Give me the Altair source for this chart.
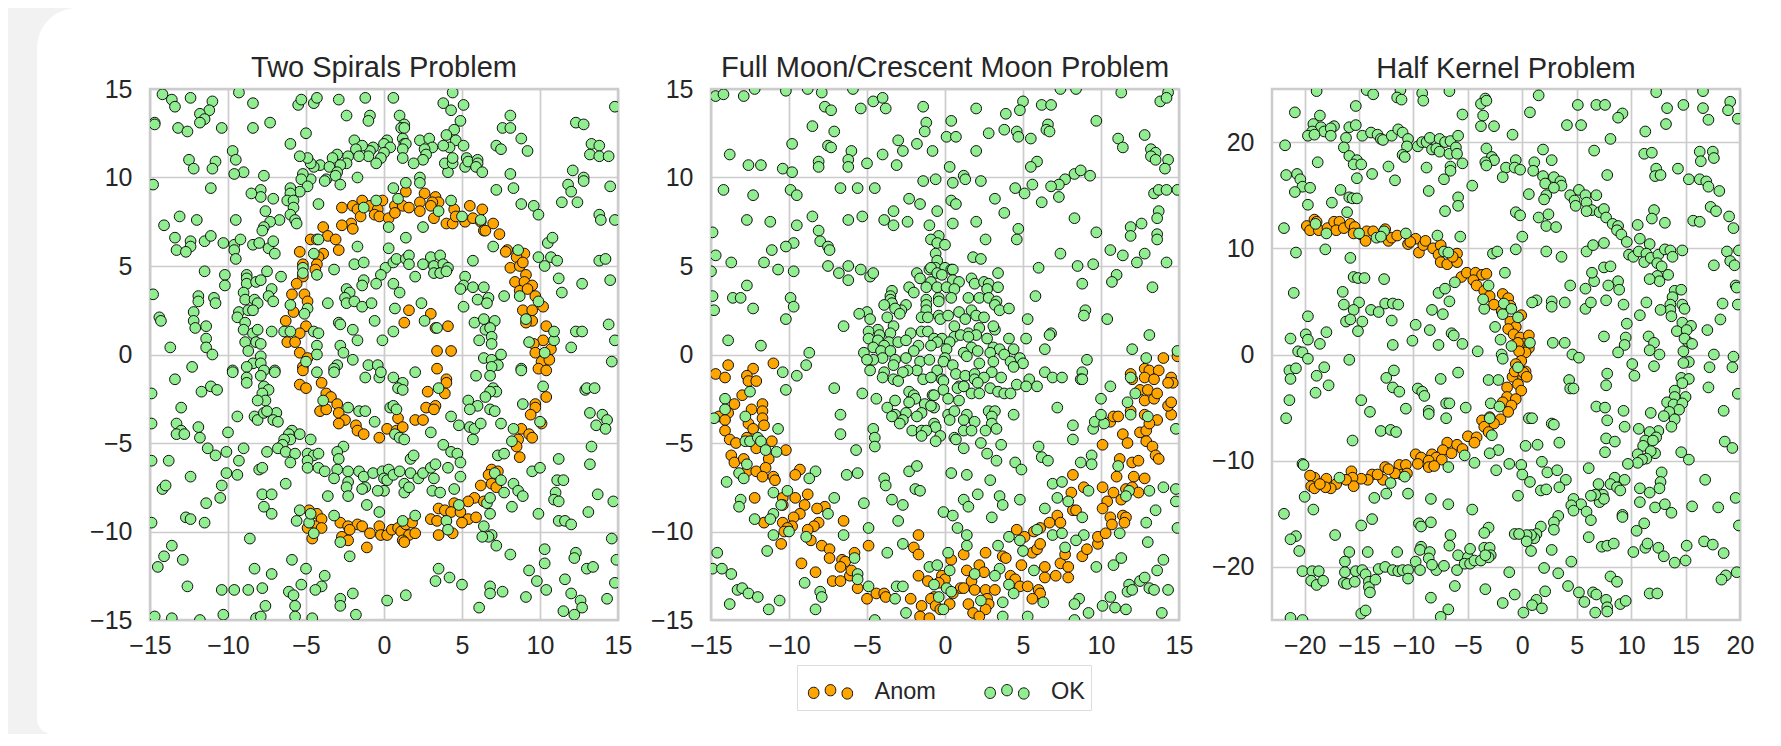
import altair as alt
import pandas as pd

p1_ok = [(-14.2,14.7),(-13.6,14.4),(-13.4,14.0),(-12.4,14.5),(-11.0,14.3),(-11.2,13.8),(-11.8,13.6),(-11.5,13.3),(-11.8,13.1),(-9.3,14.8),(-8.4,14.2),(-10.4,12.8),(-13.2,12.8),(-12.6,12.6),(-14.7,13.1),(-14.7,13.0),(-8.4,12.8),(-7.3,13.1),(-5.5,14.1),(-5.3,14.4),(-4.5,14.2),(-4.3,14.5),(-2.9,14.4),(-1.2,14.5),(0.6,14.5),(4.4,14.8),(3.8,14.2),(4.3,13.8),(5.1,14.1),(-2.4,13.5),(-0.9,13.5),(-1,13.2),(1,13.5),(-5,12.5),(1.3,13.0),(1.1,12.8),(1.3,12.8),(4.9,13.2),(4.5,12.7),(8.1,13.5),(7.6,12.8),(8.1,12.8),(8.8,12.2),(9.2,11.5),(12.3,13.1),(12.8,13),(14.8,14.0),(13.3,11.9),(13.8,11.8),(13.2,11.3),(13.8,11.2),(14.4,11.2),(7.2,11.8),(7.5,11.6),(4,12.4),(-6,11.9),
(-1.9,12.1),(0.2,12.1),(0,11.9),(1.2,12.2),(2.3,12.1),(2.9,12.2),(4.6,12.1),(5.1,11.8),(4.2,11.7),(3.8,11.8),(3.1,11.7),(2.6,11.6),(2.7,11.3),(2.5,11),(1.3,11.9),(1.4,11.9),(1.2,11.6),(1.2,11.1),(0.4,11.7),(0,11.4),(-0.2,11.1),(-0.7,11.7),(-0.9,11.5),(-1,11.2),(-0.5,10.8),(-1.4,11.8),(-1.8,11.6),(-1.6,11.2),(-2.3,11.2),(-3,11.3),(-3.3,11.1),(-2.4,10.8),(-2.8,10.7),(-4.1,10.7),(-4.5,10.6),(-4.7,10.8),(-4.9,11.1),(-5.4,11.2),(-3.5,10.6),(-3,10.3),(-3.7,9.9),(-3.8,9.8),(-3.1,10.1),(-2.8,9.6),(-1.7,10),(-4.7,9.9),(-5.2,10.2),(-5.3,9.9),(-4.9,9.5),(-5.4,9.2),(-6,9.4),(-6,9.1),(-6.2,8.7),(-5.8,8.7),(-5.8,8.3),(-6,7.9),(-5.7,7.6),(-5.6,7.4),(-6.7,7.6),(-7.3,7.5),(-7.7,7.2),(-7.8,7),(-7.6,8.1),(-7.1,8.8),(-7.9,9.3),(-7.9,8.9),(-8.5,9.1),(-7.7,10.1),(-9,10.3),(-9.6,10.2),(-9.7,11.5),(-9.5,11),(-12.5,11),(-12.2,10.5),(-10.8,10.9),(-11,10.5),(-11.1,9.4),(-14.8,9.6),(1.9,10.8),(4.1,10.3),(3.9,10.8),(4.4,10.8),(4.4,11.1),(5.2,10.6),(5.3,11.1),(5.4,10.9),(6,11),(6,10.8),(5.9,10.6),(6.3,10.3),(8.1,10.2),(2.3,10),(2.3,9.7),(1.4,9.7),(0.6,9.4),(7.2,9.3),(8.3,9.4),(8.8,8.5),(9.6,8.4),(9.9,7.9),(11.4,8.6),(11.8,9.6),(12,9.2),(12.4,8.6),(12.1,10.4),(12.8,10),(12.8,9.8),(14.5,9.5),(13.8,7.9),(13.9,7.6),(14.8,7.6),
(-4.2,8.5),(4.3,8.7),(-0.5,8.7),(0.9,8.8),(-1.3,8.3),(3.5,8.1),(5,7.8),(6.2,7.6),(0.3,7.2),(2.5,7.2),(1.4,6.6),(7,6.1),(8.6,5.9),(10.5,6.3),(10.8,6.6),
(-14.1,7.3),(-13.1,7.8),(-12,7.6),(-9.5,7.6),(-13.4,6.6),(-12.4,6.4),(-12.4,6.1),(-13.3,5.9),(-12.7,5.8),(-11.5,6.4),(-11.1,6.7),(-10.3,6.3),(-9.6,6.2),(-9.6,5.9),(-9.5,5.4),(-9.2,6.5),(-8.4,6.2),(-8,6.3),(-7.4,6),(-7.1,6.4),(-7,5.7),(-4.2,6.5),(-4.5,5.7),(-1.7,6.1),(0.3,6),
(-1.9,5.1),(-1.3,5.2),(0.1,4.9),(0.6,5.2),(0.8,5.4),(1.4,5.4),(1.6,5.6),(1.6,5.1),(2.5,5.1),(3,5.5),(3.2,5),(3.2,4.6),(3.6,5.6),(3.8,5.1),(4.1,4.9),(3.6,4.6),(4,4.7),(2,4.4),(-0.2,4.5),(5.7,5.3),(5.2,4.4),(5.1,3.9),(4.9,3.7),(5.7,3.8),(6.4,3.8),(6,3.1),(6.7,3.2),(6.6,2.9),(7.7,3.3),
(9.9,5.5),(10.3,5),(10.7,5.5),(11.1,5.3),(11.2,4.3),(11.4,3.5),(12.7,4),(13.8,5.3),(14.2,5.4),(14.5,4.2),(8.7,3.3),(9.9,3),
(-11.5,4.7),(-10.2,4.5),(-10.2,3.9),(-14.8,3.4),(-11.9,3.3),(-11.9,3),(-10.9,3.2),(-10.8,2.9),(-12.2,2.4),(-12.2,1.9),(-12.1,1.5),(-11.4,1.6),(-11.4,0.9),(-11.4,0.4),(-11,0),(-13.7,0.4),(-14.4,2.1),(-14.3,1.9),
(-8.8,4.5),(-8.8,4.3),(-8.8,4),(-8.2,4.1),(-7.9,4.2),(-7.5,4.7),(-6.6,4.4),(-7.2,3.7),(-9,3.5),(-8.9,3.1),(-8.3,3.1),(-8.1,2.9),(-7.4,3.3),(-7.1,3),(-9.3,2.4),(-9.4,2.1),(-8.7,2.5),(-8.4,2.5),(-8.9,1.8),(-9,1.4),(-8.4,1.2),(-8.1,1.4),(-8.9,0.7),(-8.2,0.7),(-7.9,0.6),(-8.7,0.2),(-7.2,1.3),(-6,2.8),(-6.4,1.3),(-6,1.3),(-7.9,-0.1),(-8.4,-0.5),(-7.9,-0.5),(-8.8,-0.7),(-12.3,-0.7),(-7,-0.9),(-9.7,-0.9),
(-5.2,4.9),(-5.2,4.6),(-4.3,4.5),(-3.2,4.8),(-4.9,2.6),(-5.1,2.3),(-4.5,1.3),(-4.2,1.2),(-4.3,0.5),(-4.3,0),(-5,-0.4),
(-1.3,4.2),(-1.4,3.9),(-0.5,4),(0.6,4),(1,3.5),(-2.4,3.7),(-2.2,3.5),(-2.5,3.2),(-2.4,2.9),(-1.9,3),(-1.4,2.7),(-0.8,2.9),(-3.6,2.9),(0.7,2.6),(2.4,2.9),(5.1,2.7),(-0.6,1.9),(-2.9,1.8),(-2.8,1.7),(-2,1.4),(-1.7,0.8),(0.6,1.3),(-0.1,0.8),(-2.8,0.5),(-2.6,0.1),(-2,-0.3),(-1,-0.6),(-0.4,-0.6),(-3,-0.6),(-3.2,-0.8),(2.6,1.9),(3.4,1.5),
(5.8,1.8),(6.4,2),(7.1,1.9),(6.5,1.4),(6.8,1.5),(6.9,1),(6.1,0.8),(6.9,0.6),(7.5,0),(6.4,-0.2),(6.9,-0.3),(7.3,-0.6),(6.9,-0.7),(8.8,-0.8),
(9.1,2),(9.3,0.7),(10.3,0.1),(10.9,0.8),(10.9,1.3),(12,0.4),(12.3,1.3),(12.7,1.3),(14.4,1.7),(14.8,0.8),(14.6,-0.4),
(-9.7,-1),(-8.8,-1.3),(-8.8,-1.6),(-7.7,-0.9),(-7,-1),(-7.9,-1.2),(-13.4,-1.4),(-11.7,-2.1),(-11.1,-1.8),(-10.7,-2),(-14.9,-2.2),(-7.7,-1.8),(-7.4,-2),(-7.8,-2.2),(-7.6,-2.6),(-8.1,-2.6),(-13,-3),(-9.4,-3.5),(-8.3,-3.5),(-8.1,-3.7),(-7.7,-3.3),(-6.9,-3.3),(-7.1,-3.7),(-6.8,-3.8),(-7.5,-3.2),
(-4.3,-1),(-3.2,-1),(-1.2,-1.3),(-0.3,-1.3),(-0.2,-1),(0.6,-1.3),(1.2,-1.6),(0.9,-1.9),(1.2,-2),(2,-1),(3.5,-1.9),(5.9,-1.2),(6.8,-1.2),(7,-1.9),(7.2,-2.1),(6.8,-2.1),(6.5,-2.4),(5.4,-2.6),(6,-2.9),(5.5,-3.1),(8.8,-0.9),(10.2,-1.8),(6.8,-3.1),(7.1,-3.2),(8.9,-2.8),
(12.9,-2),(13,-1.9),(13.5,-1.9),(13.2,-3.3),(14,-3.4),(14.3,-3.7),(13.6,-4),(14.2,-4.2),
(-3.9,-2.6),(-2.3,-3),(-1.6,-3.2),(-1.2,-3.2),(-0.6,-3.8),(0.4,-3),(0.6,-2.9),(0.8,-3.1),(4.3,-3.5),(4.8,-4),(5.5,-4.1),(5.8,-4.2),(6.2,-3.9),(5.7,-4.8),(7.5,-3.9),(10,-3.8),(8.3,-4.2),(8.2,-4.9),(3,-4.4),
(-14.9,-3.9),(-13.3,-3.9),(-13,-4.3),(-13.3,-4.5),(-12.8,-4.5),(-11.9,-4.1),(-11.8,-4.7),(-10,-4.4),(0.7,-4.5),(1,-4.7),(1.3,-4.8),
(-5.9,-4.3),(-6.1,-4.5),(-6,-4.8),(-6.4,-4.8),(-5.4,-4.5),(-4.7,-4.8),(-6.5,-5.1),(-6.8,-5.3),(-6.3,-5.5),(-5.7,-5.6),(-6,-6.1),(-7.5,-5.5),(-4.9,-5.6),(-4.5,-5.7),(-4.2,-5.6),(-4.9,-6),(-4.9,-6.4),(-4.2,-6.4),(-3.8,-6.6),(-2.6,-5.2),(-3,-5.5),(-2.9,-5.9),(-3,-6.5),(-3.2,-7),(-2.3,-6.6),(-1.6,-6.6),(-2.3,-7.2),(-2.4,-7.5),(-1.3,-6.9),(-1.2,-7.5),(-1.4,-7.6),(-2.3,-8),(-3.6,-8),(-0.7,-6.7),(-0.1,-6.6),(0.3,-6.5),(0,-7),(0.2,-7.1),(0.6,-6.8),(1,-6.6),(1.7,-6.7),(1.3,-7.3),(1.3,-7.8),(1.6,-7.5),(2.2,-7),(2.5,-6.7),(3,-6.4),(3.3,-6.2),(3.2,-7),(4.1,-6.4),(4.9,-6.9),(3.1,-7.7),(3.6,-7.8),(4.5,-7.6),(0,-7.7),(-0.4,-7.7),(1.7,-5.9),(1.9,-5.7),(3.8,-5.1),(4.3,-5.5),(4.7,-5.6),(4.9,-6.1),
(-11.3,-5.3),(-10.8,-5.7),(-10.1,-5.5),(-9,-5.3),(-9.3,-6),(-14.9,-6),(-13.8,-6),(-10.1,-6.7),(-9.4,-6.8),(-12.4,-6.9),(-8,-6.5),(-7.8,-6.4),(-6.3,-7.3),(-10.4,-7.4),(-10.5,-8.1),(-14.2,-7.6),(-14,-7.4),(-11.4,-8.4),(-7.8,-7.9),(-7.2,-7.9),(-7.7,-8.6),(-7.2,-9),(-14.9,-9.5),(-12.7,-9.2),(-12.4,-9.3),(-11.5,-9.5),(-8.6,-10.4),(-13.6,-10.8),(-14.1,-11.4),(-14.5,-12),(-12.9,-11.6),(-12.6,-13.1),(-10.4,-13.3),(-9.6,-13.3),(-8.7,-13.3),(-7.8,-13.2),(-8.3,-12.1),(-7.2,-12.4),(-5.9,-11.6),(-5,-12.1),(-3.8,-12.5),(-5.3,-13),(-4,-13.1),(-4.4,-13.3),(-6.1,-13.4),(-5.8,-13.6),(-5.7,-14.2),(-7.6,-14.2),(-10.3,-14.7),(-14.7,-14.8),(-13.6,-14.9),(-11.8,-15),(-8.2,-14.9),(-7.9,-14.8),(-5.7,-14.8),(-4.6,-14.9),(-2,-13.5),(-2.8,-13.8),(-2.8,-14.2),(-1.8,-14.7),(-2.2,-11.4),(0.2,-13.9),(1.4,-13.6),(3.5,-12.1),(4.2,-12.6),(3.3,-12.8),(5,-13),
(-5.4,-8.8),(-5.6,-9.4),(-4.8,-9.5),(-4.7,-9),(-4.5,-10.1),(-3.2,-9.1),(-2.8,-10.6),(-1.1,-8.5),(-0.3,-8.9),(1.2,-9.4),(2,-9.1),(4,-9.4),(4.1,-9.9),(4.8,-8.5),(6.4,-9.7),(6.6,-8.4),(6.8,-8.1),(6.8,-9),(6.9,-10.2),(6.7,-10.3),(6.3,-10.3),(7.2,-10.8),(8.1,-11.3),(7.1,-6.7),(7.5,-7.1),(7.3,-5.7),(7.7,-5.6),(8.3,-7.3),(8.6,-7.7),(8.9,-8),(7.7,-7.8),(8.2,-8.6),(9.5,-6.6),(10,-6.4),(11.2,-5.9),(11.1,-7.1),(11.5,-7.1),(11,-7.8),(10.9,-8.2),(11.2,-8.3),(9.9,-9),(13.1,-8.9),(13.7,-7.9),(14.7,-8.3),(11.2,-9.4),(11.6,-9.4),(12,-9.6),(13.3,-5.2),(13.2,-6.2),(14.6,-10.4),(14.9,-11.6),(10.3,-11),(10.3,-11.8),(9.3,-12.2),(9.8,-12.8),(10.4,-13.3),(7.6,-13.4),(6.8,-13.1),(6.8,-13.5),(9.1,-13.7),(6.1,-14.3),(12.3,-11.2),(12.2,-11.5),(13,-12.1),(13.4,-12),(11.6,-12.7),(12,-13.5),(12.6,-13.9),(12.7,-14.3),(14.3,-13.8),(14.8,-12.9),(11.5,-14.5),(12.2,-14.7)]

p1_an = [(1.4,9.2),(2.6,9.1),(3.3,8.9),(3.5,8.6),(3.1,8.6),(2.3,8.6),(3,8.4),(2.3,8.1),(3.2,7.7),(-0.1,8.7),(0.7,8.4),(1.2,8.4),(1.6,8.3),(-1.4,8.7),(-2,8.4),(-1.7,8.2),(-2.7,8.3),(-0.9,8.4),(-0.4,8.2),(-0.6,7.9),(-0.3,7.8),(0.3,7.7),(0.7,8),(-1.5,7.8),(-2.1,7.4),(-2.7,7.3),(-2,7.1),(4.5,8.2),(5.5,8.4),(6.3,8.2),(4,7.4),(4.4,7.4),(4.6,7.8),(5.2,7.5),(5.7,7.7),(6.2,7.5),(7,7.4),(6.4,7),(6.5,7),(7.4,6.8),(-3.9,7.2),(-4.7,6.5),(-4.3,6.5),(-3.6,6.7),(-3.1,6.5),(-2.9,5.9),(-3.9,5.7),(-4.2,5.5),(-4.3,5.1),(-4.4,4.8),(-5.4,5.8),(-5.2,5.1),(-5.2,4.4),(-5.6,4),(-5.9,3.4),(-5.1,3.4),(-4.9,3),(-5.8,2.4),(-6.3,1.9),(-5,1.6),(-5.4,1.2),(-6.2,0.7),(-5.7,0.7),(-5.4,0.1),(-4.9,-0.2),(-5.2,-0.7),(7.9,5.9),(7.8,5.8),(9,5.7),(8.5,5.5),(8.1,4.9),(8.7,5),(8.9,5.2),(9.1,4.5),(8.4,4.1),(9,4.1),(9.5,3.9),(8.7,3.6),(9.2,3.7),(9.7,3.3),(10.2,2.7),(8.9,2.5),(9.5,2.5),(9.5,1.9),(9.1,1.8),(10.4,1.6),(10.2,0.8),(9.6,0.6),(10.7,0.3),(9.7,0.1),(10.1,-0.4),(10.6,-0.3),(9.9,-0.8),(10.4,-0.9),
(1.6,2.5),(3,2.3),(1.3,1.8),(3.3,1.5),(4.1,1.6),(3.4,0.2),(4.3,0.2),(3.4,-0.8),
(-5.2,-0.9),(4,-1.4),(4,-1.6),(3.9,-2.2),(-4,-1.6),(-5.4,-1.7),(-5,-1.9),(-3.7,-2.2),(-3.4,-2.4),(-3,-2.8),(-4.1,-3.2),(-3.7,-3.1),(-2.9,-3.3),(-2.5,-3.7),(-2.9,-3.9),(-1.8,-4),(-1.7,-4.3),(-1.3,-4.5),(-0.3,-4.7),(0.2,-4.2),(0.8,-4.3),(0.9,-3.6),(1.2,-4.1),(2,-3.7),(2.5,-3.7),(2.7,-3),(3.3,-2.9),(3.2,-3.1),(2.8,-2.1),(10.4,-2.4),(9.7,-2.8),(9.7,-3),(9.4,-3.4),(10.1,-3.9),(8.8,-4.2),(9.3,-4.5),(9.5,-4.7),(8.6,-4.8),(8.5,-5.2),(8.7,-5.8),(6.9,-6.5),(7.3,-6.6),(6.7,-6.8),(6.9,-7.3),(7.2,-7.5),(6.2,-7.4),(5.8,-8.1),(5.4,-8.3),(6.4,-8.3),(4.5,-8.4),(3.5,-8.7),(3.9,-8.8),(4.3,-8.9),(4.9,-8.9),(5.4,-9.3),(5.9,-9.2),(5,-9.5),(3,-9.3),(3.4,-9.4),(4.4,-10.1),(3.5,-10.2),
(-4.8,-8.8),(-4.3,-9),(-4,-9.3),(-4.4,-9.7),(-4,-9.8),(-4.9,-9.8),(-4.6,-10.4),(-2.8,-9.5),(-2.3,-9.7),(-1.7,-9.6),(-1.4,-9.7),(-2.2,-9.9),(-2.7,-10.3),(-2.3,-10.5),(-1.1,-10.9),(-0.9,-10.1),(-0.3,-9.7),(-0.2,-10.2),(0.2,-10.2),(0.5,-9.9),(0.9,-9.8),(1.1,-10),(1.4,-9.6),(1.8,-9.5),(1.6,-10.2),(1.2,-10.5),(1.3,-10.6),(2,-10.1)]

p2_ok = [(-14.7,14.6),(-14.2,14.7),(-12.9,14.6),(-12.2,15),(-10.2,14.9),(-8.8,15),(-7.9,14.8),(-5.9,15),(-7.7,14),(-7.3,13.8),(-5.4,13.9),(-4.6,14.3),(-4,14.5),(-3.8,13.9),(-1.4,14),(2,13.9),(3.9,13.6),(5,14.3),(4.8,13.8),(6.2,14.1),(6.8,14.1),(7.4,15),(8.4,15),(9.7,13.2),(11.3,14.8),(13.8,14.3),(14.3,14.8),(14.2,14.5),
(-8.5,12.9),(-7.1,12.6),(-1.2,13.1),(-1.3,12.6),(0.4,13.2),(0.1,12.3),(0.7,12.3),(2.8,12.5),(3.8,12.7),(4.6,12.6),(4.7,12.3),(5.5,12.2),(6.6,13),(6.5,12.7),(6.7,12.6),(11.1,12.2),(11.4,11.7),(12.8,12.4),
(-3,12.1),(-9.8,11.9),(-7.5,11.8),(-7.3,11.7),(-6,11.5),(-2.7,11.5),(-1.8,11.9),(-0.8,11.5),(2,11.5),(13.2,11.6),(13.5,11.4),(13.2,11.2),(13.5,11),(14.3,11),(-13.8,11.3),(-4,11.3),
(-12.6,10.7),(-11.8,10.7),(-8.1,10.9),(-8.1,10.6),(-6.2,11),(-6.2,10.6),(-5,10.8),(-3.1,10.7),(0.3,10.6),(5.9,10.9),(5.5,10.6),(14.1,10.5),(-10.4,10.5),(-9.8,10.3),
(1.2,10.1),(1.3,9.9),(-0.6,9.9),(-1.4,9.8),(0.5,9.7),(2.3,9.8),(8.3,10.2),(8.7,10.4),(9.3,10.1),(7.7,9.9),(7.3,9.6),(6.8,9.5),(5.6,9.6),(4.5,9.4),(5.1,9.1),(6.2,8.6),(7.3,8.9),(3.2,8.8),
(-14.2,9.3),(-12.3,9),(-9.9,9.3),(-9.5,9),(-6.7,9.4),(-5.6,9.4),(-4.5,9.4),(-2.3,8.8),(-1.6,8.5),(0.4,8.7),(0.7,8.5),(13.4,9.1),(13.7,9.3),(14.2,9.3),(14.9,9.3),
(-3.3,8.1),(-0.5,8.1),(3.8,8),(13.7,8.1),(13.6,7.7),(8.3,7.7),
(-12.7,7.6),(-11.2,7.5),(-8.5,7.8),(-6.2,7.6),(-5.3,7.8),(-3.9,7.6),(-3.3,7.3),(-2.4,7.5),(-1,7.3),(0.5,7.4),(2,7.5),(12.6,7.4),(11.9,7.2),(11.9,6.7),(4.7,7.1),(9.7,6.9),(-9.5,7.3),(-14.9,6.9),(-8.1,7),
(13.6,6.8),(13.6,6.5),(4.6,6.5),(2.6,6.5),(-0.4,6.7),(-0.9,6.5),(-0.5,6.3),(0,6.2),(-8,6.4),(-7.5,6.1),(-7.4,5.9),(-9.7,6.3),(-10.2,6.1),(-11.1,5.9),(10.6,5.9),(11.4,5.6),(12.8,5.7),(7.4,5.7),(12.3,5.2),(14.2,5.2),
(-14.7,5.6),(-13.7,5.2),(-11.6,5.2),(-7.5,5),(-6.2,5),(-0.6,5.7),(-0.5,5.3),(1.8,5.5),(2.3,5.4),(6,4.9),(8.5,5),(9.5,5.1),
(-10.7,4.8),(-9.7,4.7),(-6.8,4.6),(-6.2,4.2),(-5.4,4.8),(-4.8,4.4),(-4.6,4.6),(-15,4.7),(-12.7,3.9),
(11,4.5),(10.7,4.1),(8.8,4),(13.3,3.8),(5.8,3.3),
(-13.6,3.2),(-13.1,3.2),(-9.9,3.2),(-9.7,2.7),(-12.3,2.6),(-14.8,2.5),(-14.9,3.3),(-10.2,2),(9,2.5),(8.9,2.2),(10.4,2),(5.3,2),
(-6.5,1.6),(-13.9,0.8),(-11.8,0.5),(-8.7,0.1),(-8.9,-0.6),(-10.4,-1),(-9.5,-1.2),(6.8,1.2),(6.7,1.1),(5.2,0.9),(4.1,0.9),(6.4,0.3),(13.1,1.1),(12,0.3),(9.1,-0.3),(12.9,-0.2),(14.9,0.2),(6.4,-1),(6.9,-1.3),(7.5,-1.3),(8.8,-1),(8.7,-1.4),(8.8,-1.4),(11.9,-1.3),
(-0.6,4.9),(-1,4.8),(-0.9,4.9),(0,4.9),(0.4,4.8),(0.5,4.8),(-0.5,4.6),(-0.2,4.5),(-1.8,4.6),(-1.6,4.3),(-0.9,4.1),(0.5,4.2),(0.9,4.1),(1.7,4.3),(1.9,4),(2.5,4.1),(2.8,4),(3.4,4.6),(3.4,3.8),(2.7,3.7),(-1.2,3.8),(-0.5,3.8),(0.1,3.8),(0.6,3.7),(-2.3,3.8),(-2,3.5),(-3.4,3.6),(-3.5,3.3),(-3.5,3.1),(-3.4,2.9),(-3.9,2.8),(-2.5,2.8),(-2.8,2.5),(-3.2,2.6),(-1.2,3.1),(-1.2,2.8),(-0.4,3.2),(-0.4,3),(0.4,3.2),(1.5,3.2),(2.2,3.2),(2.8,3.2),(3.3,3),(3.2,2.8),(3.5,2.5),(4.1,2.6),(0.9,2.4),(1.7,2.5),(2,2.2),(2.5,2.1),(-1.2,2.5),(-1.5,2.1),(-1.1,2.1),(-0.4,2.2),(-0.3,2),(0.2,2.2),(-3.7,2.1),(-2.9,2.3),(-5,2.4),(-5.5,2.3),(-4.8,2),(1.3,2),(0.6,1.6),(1.5,1.2),(2.2,1.5),(3.2,1.4),(3.1,1.6),(-4.3,1.4),(-3.3,1.6),(-3.5,1.2),(-4.9,1.3),(-1.5,1.3),(-1.1,1.3),(-2.2,1.2),(-4.2,1.1),(-4.9,0.9),(-4.3,0.8),(-3.6,0.7),(-3,0.7),(-2.5,0.8),(-0.7,0.9),(-0.2,0.9),(0.6,1),(1,1.1),(2,1.1),(2.7,0.9),(1.5,1),(-0.5,0.7),(0.3,0.7),(-4.6,0.4),(-3.9,0.5),(-1.7,0.5),(-0.9,0.5),(1.7,0.4),(3.1,0.4),(3.5,0.3),(4.4,0.3),(-5.2,0.1),(-4.1,0.2),(-3.5,0.2),(-2,0.2),(0.1,0.3),(1.2,0.1),(2.1,0.2),(2.9,0.1),(3.8,0),(-2.5,-0.2),(-4,-0.2),(0,-0.2),(1.4,-0.1),(4.8,-0.2),(-3.2,-0.3),(-4.6,-0.3),(-5,-0.3),(-1.6,-0.4),(-1,-0.3),(-0.1,-0.4),(3.1,-0.4),(4.2,-0.4),(2.2,-0.5),(5,-0.5),(0.5,-0.6),(-3.3,-0.6),(-4.8,-0.9),(-3.9,-1),(-1.8,-0.9),(-2.4,-0.9),(-0.5,-0.9),(-2.7,-1),(3,-1),(4.4,-0.7),(0.7,-1.1),(1.3,-1.2),(1.9,-1.1),(-4,-1.3),(-3.3,-1.4),(-3,-1.5),(-1.4,-1.4),(-0.9,-1.3),(-0.2,-1.4),(1.9,-1.4),(2.5,-1.3),(3.6,-1.3),(4.6,-1.7),(5.4,-1.4),(1.2,-1.8),(2.1,-1.6),
(-0.1,-1.5),(-0.1,-2),(0.9,-1.8),(0.8,-1.9),(1.2,-1.8),(-2.3,-2.1),(-2,-2.3),(-1.9,-2.5),(-2.3,-2.7),(-3.2,-2.6),(-0.8,-2.3),(-0.7,-2.3),(0.2,-2.5),(0.9,-2.6),(1.7,-2.2),(2.2,-2.2),(2.9,-1.9),(3.4,-2.1),(3.8,-2.2),(4.2,-2.2),(5.2,-1.8),(5.9,-1.8),(-4.4,-2.5),(-5.3,-2.2),(-7.1,-1.9),(-10.2,-2),(-14.1,-2.5),(-12.5,-2.1),(7.2,-3),(11.7,-2.7),(12.2,-2.2),(11.9,-3.4),(13,-3.5),(10,-2.5),(10.6,-1.8),
(-1.3,-2.8),(-0.7,-3),(-0.9,-2.9),(-3.7,-3),(-3.2,-3.4),(-2.5,-3.3),(-1.5,-3.3),(-1.8,-3.5),(-3.4,-3.5),(-2.7,-3.7),(-2.9,-3.9),(-0.7,-3.9),(-0.6,-4.1),(0.2,-3.4),(0.6,-3.2),(0.3,-3.7),(1.4,-3.4),(1.2,-3.7),(1.9,-3.8),(2.8,-3.2),(3.2,-3.2),(3,-3.5),(3,-3.9),(4.4,-3.4),(1.2,-4.3),(1.7,-4.3),(2.6,-4.3),(3.3,-4.2),(-2.1,-4.3),(-1.5,-4.3),(-1.2,-4.3),(-1.5,-4.6),(-0.3,-4.6),(-0.6,-4.9),(0.6,-4.7),(0.7,-4.8),(1.2,-5.3),(2.3,-5),(3.6,-5.1),(2.7,-5.6),(3.3,-6),(4.5,-6.1),(4.9,-6.5),(6,-5.2),(6.2,-5.8),(6.6,-6),(-6.7,-3.4),(-6.7,-4.5),(-4.6,-4.2),(-4.5,-4.7),(-4.5,-5.2),(-5.7,-5.4),(-6.3,-6.8),(-5.6,-6.7),(-2.3,-6.6),(-1.8,-6.3),(-3.9,-7),(-3.8,-7.4),(-1.9,-7.6),(-1.6,-7.7),(0.4,-6.7),(1.4,-6.8),(2.9,-7.1),(2.1,-7.9),(1.2,-8.2),(1.5,-8.6),(3.5,-8),(3.7,-8.5),(4.8,-8.2),(-3.4,-8.2),(-2.7,-8.5),(-0.1,-8.9),(0.5,-9.1),(3,-9.2),(-3,-9.4),(-5.2,-8.4),(-7.1,-8.1),(-8.3,-6.6),(-8.7,-7),(-14,-7.2),(-13.2,-6.7),(-12.9,-7),(-12.7,-6.2),(-12.8,-4.9),(-12.5,-4.9),(-12,-4.7),(-11.8,-4.9),(-11.5,-5.4),(-10.8,-5.5),(-10.7,-4.2),(-12.8,-3.5),(-14.1,-3.1),(-14.8,-3.6),
(-13.1,-8.2),(-13.2,-8.6),(-11,-7.8),(-10.1,-7.7),(-10.5,-8.5),(-11,-9),(-11.2,-9.3),(-12.2,-9.3),(-10,-10),(-11,-10.2),(-11.4,-11.1),(-7.5,-9),(-8.9,-10.3),(-6.5,-10.2),(-4.9,-9.8),(-3.7,-11.2),(-2.7,-10.7),(-14.6,-11.2),(-14.9,-12.1),(-14.3,-12.1),(-13.7,-12.4),(-13.3,-13.3),(-13,-13.2),(-12.6,-13.5),(-12,-13.7),(-13.8,-14.1),(-10.6,-13.9),(-11.3,-14.4),(-9,-12.9),(-8,-13.4),(-7.9,-13.7),(-8.3,-14.4),(-5.8,-11.5),(-5.6,-12.4),(-5.6,-12.7),(-4.9,-13.1),(-3.1,-13.1),(-2.7,-13.1),(-3.2,-13.8),(-4.5,-15),(-2.5,-14.6),(-1,-12),(-0.5,-11.9),(0.2,-11.2),(0.3,-12.2),(1.4,-10.8),(1.4,-10.2),(0.8,-9.8),(-0.7,-13),(0.1,-13.2),(0.4,-13.4),(-0.4,-13.7),(-0.1,-14.4),(1.9,-12.4),(2.3,-13.9),(3.4,-10.8),(4.1,-10.3),(4.8,-10.5),(5,-11.1),(5.7,-12.2),(3.5,-12.1),(3.2,-12.5),(4.1,-13),(4.4,-13.5),(3.7,-14),(3.7,-14.8),(5.3,-14.8),(6.3,-14),(5.9,-9.9),(6.9,-10.2),(7.5,-10.1),(6.4,-8.7),(7.2,-8.1),(7.9,-8.3),(6.9,-7.3),(7.5,-7.2),(8.2,-4),(8.2,-4.8),(9.5,-4.2),(9.6,-3.8),(10.2,-3.9),(10,-3.4),(9.4,-5.7),(9.4,-6.2),(8.7,-6.1),(9.2,-7.7),(8.8,-9.2),(8.9,-10.2),(8.4,-10.5),(7.7,-10.9),(11.2,-10.1),(13,-10.6),(12.9,-9.5),(13.5,-8.8),(11.8,-7.7),(11.6,-8),(11.1,-6.3),(13.1,-7.7),(14,-7.5),(14.8,-7.6),(14.8,-8.3),(14.9,-9.8),(14.8,-4.2),(11.3,-11.5),(14,-11.6),(13.6,-12.2),(10.8,-11.9),(9.7,-12),(12.5,-12.8),(12.8,-12.6),(11.8,-13),(11.7,-13.4),(12,-13.3),(13.1,-13.2),(13.4,-13.3),(14.3,-13.3),(10.6,-13.7),(8.6,-13.8),(8.3,-14.1),(10.1,-14.2),(10.9,-14.3),(11.6,-14.4),(9.2,-14.6),(13.9,-14.6),(8.3,-15)]

p2_an = [(-13.9,-0.6),(-14.7,-1.1),(-14.1,-1.3),(-12.3,-0.8),(-12.7,-1.2),(-12.6,-1.5),(-12.1,-1.5),(-11,-0.5),(14,-0.2),(14.9,-0.1),(12.8,-0.8),(13.1,-0.9),(13.7,-0.9),(11.9,-1.1),(12,-1.4),(12.8,-1.3),(13.4,-1.4),(14.5,-1.3),(14.6,-1.6),(14.3,-1.6),
(-13,-2.3),(-13.5,-2.8),(-11.7,-2.8),(-12.4,-3.1),(-11.7,-3.2),(-14.5,-3.5),(-13.9,-3.3),(-14.1,-3.7),(-11.7,-3.6),(-12.6,-3.9),(-11.6,-4),(-12.3,-4.2),(-14.1,-4.3),(-13.8,-4.8),(-13.4,-5),(-12.7,-4.7),(-11.1,-4.9),(-12.1,-5.3),(-10.2,-5.4),(-13.7,-5.7),(-13.5,-6.1),(-12.9,-5.9),(-11.3,-5.9),(-12.7,-6.6),(-12.1,-6.6),(-11.5,-6.4),(-11.7,-6.9),(-11,-6.9),(-10.9,-7.1),(-9.3,-6.5),(-9.6,-6.8),(-12.2,-8.1),(-10.4,-8.1),(-9.6,-8.1),(-8.8,-7.9),(-10.4,-8.5),(-9,-8.5),(-7.7,-8.6),(-8.2,-8.7),(-9.3,-9),(-9.7,-9.2),(-11.6,-9.5),(-10.4,-9.5),(-9.8,-9.7),(-10.1,-9.8),(-10.3,-10),(-8.1,-9.5),(-8.4,-9.7),(-8.8,-9.9),(-6.5,-9.4),(-10.5,-10.7),(-8.6,-10.5),(-7.9,-10.8),(-7.4,-11),(-7.4,-11.5),(-9.2,-11.8),(-6.6,-11.6),(-6.4,-11.7),(-5.8,-11.2),(-6.7,-12),(-8.3,-12.3),(-6.1,-12.5),(-6,-12.2),(-7.2,-12.8),(-6.7,-12.8),(-5.6,-13.2),(-5,-13.8),(-4.4,-13.5),(-3.9,-13.5),(-3.8,-13.7),(-4.9,-10.8),(-2,-10.9),(-1.7,-11.3),(-1.7,-10.2),(-1.7,-12.5),(-1.1,-12.8),(-0.2,-12.5),(0,-12.7),(-0.4,-12.9),(0.4,-11.6),(1.2,-11.3),(1.4,-12.2),(2.2,-11.9),(2.5,-12.3),(2.6,-11.2),(1.7,-12.8),(1,-13.2),(1.2,-13.2),(1.9,-13.3),(2.6,-13.3),(3.2,-13.3),(2.7,-13.8),(2.8,-14.1),(2.6,-14.4),(1.5,-14.1),(1.8,-14.6),(2.2,-14.8),(-0.7,-13.7),(-0.9,-13.8),(0.5,-13.5),(0.3,-14.1),(-0.6,-14.2),(-0.3,-14.4),(-1.5,-14.2),(-1.6,-14.8),(-1,-14.9),(-2.2,-13.8),(3.7,-11.4),(3.9,-11.5),(4.2,-12.5),(4.5,-12.7),(4.8,-13.1),(5.3,-13.1),(4.9,-11.9),(5.6,-11.2),(5.9,-11),(6.1,-10.7),(4.6,-9.9),(5.1,-10.3),(5.7,-10),(6.1,-9.8),(6.7,-9.5),(7.2,-9.1),(7.4,-9.5),(6.4,-12),(6.4,-12.6),(7.1,-12.5),(6,-13.3),(6.1,-13.5),(5.6,-13.8),(7.4,-11.8),(7.7,-11.3),(7.9,-12),(7.9,-12.6),(8.8,-11.4),(9.1,-11),(9.8,-10.7),(9.8,-10.3),(10.3,-10.1),(8.1,-7.8),(8.2,-6.8),(8.9,-7.5),(8.2,-8.8),(8.4,-8.8),(10.1,-5.1),(10.1,-7.5),(10.8,-7.8),(10.4,-8.3),(10.1,-8.7),(10.6,-9.2),(10.7,-9.6),(11.4,-9.1),(11.6,-9.2),(11.5,-9.5),(11.3,-8.2),(12,-6.1),(11.2,-5.9),(12.4,-6),(11,-6.9),(12.1,-6.9),(12.8,-7),(11.6,-7.6),(12,-7.5),(12.4,-7.8),(10.6,-3.8),(10.8,-3.5),(11.1,-3.5),(11.4,-4.5),(11.7,-5),(12.5,-4.4),(12.9,-4.3),(12.9,-4.9),(13.3,-5.2),(13.5,-5.7),(13.7,-5.9),(12.8,-3.4),(13.6,-3.7),(13.1,-3.9),(14.5,-3.4),(14.3,-2.9),(14.5,-2.7),(12.8,-2.6),(13.4,-2.5),(12.5,-2),(13,-2),(13.6,-2.2),(11.9,-3.2)]

p3_ok = [(-18.9,24.8),(-14.3,24.9),(-13.7,24.5),(-11.2,24.9),(-11.5,24.2),(-11.1,24),(-9.2,24.6),(-9.1,23.9),(-6.7,24.8),(-3.4,24.1),(-3.8,23.6),(-3.3,23.9),(1.5,24.4),(0.7,22.8),(-20.9,22.8),(-15.3,23.4),(-18.6,22.5),(-5.5,22.6),(-3.6,22.5),(5.1,23.5),(6.8,23.5),(7.6,23.5),(9.2,22.7),(8.8,22.3),(12.3,24.7),(13.3,23.2),(14.8,23.5),(16.6,24.8),(16.6,23.2),(19.1,23.8),(18.9,23),(17.1,22.1),(19.8,22.2),(13.2,21.7),(4.1,21.6),(5.4,21.6),(11.3,21),(-3.8,21.5),(-2.6,21.5),(-0.9,20.7),(8.1,20.3),
(-19.2,21.7),(-17.3,21.5),(-18.5,21.4),(-18.2,21),(-17.6,21.3),(-19.3,21),(-19.7,20.6),(-19.1,20.7),(-17.6,20.6),(-15.9,21.4),(-15.3,21.6),(-16.2,20.4),(-14.7,20.6),(-13.9,20.9),(-13.3,20.7),(-13,20.3),(-12.8,20.2),(-12,20.6),(-11.4,21.2),(-11,20.9),(-10.5,20.3),(-10.6,19.6),(-9.6,19.6),(-9.2,20),(-8.8,20),(-8.5,20.4),(-7.6,20.3),(-7.1,20),(-6.6,20.1),(-5.9,20.6),(-8.3,19.3),(-7.9,19.4),(-7.6,19.1),(-6.7,18.9),(-6.1,19.5),(-6,18.9),(-5.5,18),(-6.6,17.7),(-6.6,17.3),(-11,18.8),(-10.8,18.6),(-16.4,19.5),(-15.9,18.7),(-15.2,18.3),(-15.5,17.9),(-14.8,17.9),(-18.8,18.1),(-21.8,19.7),
(-3.3,19.4),(-2.8,18.6),(-2.6,18.3),(-3.4,18.1),(-3.3,17.8),(-1.5,17.6),(-0.6,18.3),(-0.7,17.6),(-0.2,17.4),(1.1,18.1),(1,17.3),(1.9,19.3),(2.7,18.3),(-1.8,16.7),(1.9,16.8),(2.1,16.1),(2.9,16.7),(3.5,16.3),(3.6,15.9),(2.9,15.7),(6.6,19.2),(7.8,16.9),(11.2,18.9),(11.9,19),(12.3,17.5),(12.2,16.8),(12.7,16.9),(14.3,17.5),(15.3,16.5),(16.3,19.1),(16.4,18.2),(17.5,19.1),(17.6,18.5),(16.3,16.5),(16.9,16.3),(17.1,15.8),(18.1,15.4),(17.3,13.9),(17.8,13.5),(19,13),(19.4,11.9),(15.7,12.6),(16.3,12.5),(10.6,12.2),(12.1,13.6),(11.9,12.8),(13.1,12.4),
(4.4,15),(5.2,15.5),(5.8,15),(4.8,14.5),(5.9,14.3),(4.9,14),(6.8,15),(6.4,13.6),(5.9,13.5),(7.1,13.4),(7.5,13.7),(7.7,12.9),(8.3,12.3),(8.8,12.1),(8.7,11.7),(9.1,11.3),(9.6,10.6),(10.8,10.9),(11.7,10.4),(9.8,9.4),(10.2,9.2),(10.7,9.7),(11.4,9.5),(11.2,8.7),(11.8,9.1),(12.5,9.4),(12.4,8.6),(12.8,8.3),(13.4,7.5),(12.4,7.4),(12.6,6.9),(11.7,7.1),(13.1,9.9),(13.6,9.8),(13.8,9.2),(14.7,9.8),(14,6),(14.6,6.1),(13.8,5.4),(13.6,4.7),(14.7,4.7),(13.6,4.2),(14.9,4.3),(13.7,3.6),(14.7,3),(15.5,2.7),(14.2,2.2),(15.1,2.3),(15.2,1.2),(14.9,1.5),(15.6,1),(14.8,0.3),(15.3,-0.7),(14.8,-0.8),(14.6,-2.2),(15.3,-2.3),
(18.8,9.7),(19.1,8.8),(19.5,8.4),(19.9,9.8),(17.6,8.4),(19.6,6.5),(19.7,6.3),(18.4,4.8),(19.8,4.7),(18.2,3.3),(17,2.3),(17.6,0),(19.4,-0.2),(19.3,-1.2),(17.2,-1.2),(17.1,-3.1),
(9.6,2.9),(11.4,4.9),(10.8,3.7),(12.7,4.2),(9.3,4.7),(11.6,1.7),(12.1,1.1),(11.7,0.4),(12.6,0),(7.5,1.7),(9.5,1.6),(9.4,0.9),(8.8,0.2),(10.1,-0.9),(12.1,-1.1),(10.3,-2),(7.8,-1.8),(7.7,-2.9),(4.3,-2.4),(4.6,0),(5.2,-0.3),(2.8,1.1),(3.9,1.1),(5.8,4.3),(6.3,4.9),(5.8,6.2),(7.7,5.1),(8.8,6.9),(8.9,6.1),(7.9,6.5),(6.6,6.9),(6.4,7.7),(7.5,8.2),(8.1,8.3),(4.4,6.5),(2.7,5),(2.7,4.5),(3.9,4.9),(1.3,5.1),(0.9,4.9),(5.9,9.7),(6.5,10.3),(7.5,10.5),(3.6,9.2),(2.2,9.7),(-0.6,9.9),(0,11.1),(-1.6,7.7),(-2.7,9.5),(-2.3,9.7),(1.5,12.9),(2.4,13.2),(2.2,12.1),(3.1,12),(-0.6,13.4),(-0.2,13.1),(0.6,15.1),(2.2,15),(2,14.6),
(-21.7,16.9),(-20.7,17),(-20.4,16.5),(-20.2,15.8),(-19.5,15.7),(-20.9,15.3),(-19.7,14.1),(-17.5,14.3),(-16.7,15.5),(-15.9,14.8),(-15.6,14.7),(-15.2,14.7),(-15.2,16.6),(-13.8,17),(-12.3,17.7),(-11.7,16.4),(-8.8,17.6),(-7.2,16.5),(-8.6,15.4),(-4.6,15.9),(-5.9,14.8),(-5.9,14),(-7.1,13.5),(-5.7,11.1),(-7.8,11.2),(-16.1,13.4),(-21.9,11.9),(-20.8,9.6),(-18.1,9.9),(-15.8,9.1),(-21,5.8),
(-15.5,7.3),(-15.1,7.2),(-14.5,7.2),(-12.7,7.1),(-16.5,5.9),(-16.4,4.7),(-15,4.9),(-12.6,4.8),(-11.9,4.8),(-11.4,4.7),(-13.9,4.2),(-13.2,4),(-15.5,4.2),(-16.2,3.1),(-15.8,3.3),(-14.7,3.1),(-15.1,2.2),(-12,3.2),(-19.7,3.6),(-19.9,1.9),(-21.3,1.5),(-19.7,1.4),(-18,2.1),(-18.6,1),(-20.6,0.3),(-20.2,0.2),(-19.7,-0.4),(-9.8,2.8),(-8.5,2.3),(-6.5,2),(-6.3,1.8),(-10.1,1.3),(-11.9,0.9),(-7.7,0.9),(-5.5,1),(-4.1,0.3),(-8.3,4.2),(-7.3,3.8),(-7.7,5.8),(-7.1,6.2),(-6.7,5),(-6.2,6.8),(-3.5,4.3),(-2.5,2.6),(-2,1.4),(-1.8,3.8),(-3.6,5.2),(-3.1,6.5),(-1,0.8),(-1.9,0),(-1.8,-0.4),(-0.4,-1.2),(-15.9,-0.5),(-21.4,-1.5),(-20.8,-1.3),(-21.3,-2.3),(-18.2,-1.2),(-18.9,-2),(-17.8,-2.9),(-11.8,-1.5),(-12.5,-2.2),(-11.9,-3.1),(-7.5,-2.3),(-5.9,-1.7),(-3.1,-2.4),(-2.2,-2.4),(-9.6,-3.2),
(-19,-3.6),(-21.4,-4.3),(-21.7,-6),(-14.8,-4.3),(-14,-5.4),(-11.3,-3.5),(-9.2,-3.5),(-9,-3.9),(-10.7,-5.1),(-8.6,-5.3),(-8.6,-5.6),(-7,-4.6),(-6.7,-4.6),(-7,-6),(-5.2,-5),(-13,-7.2),(-12.1,-7.1),(-11.6,-7.3),(-15.6,-8.1),(-2.9,-4.6),(-2.1,-4.9),(-3,-6),(-2.8,-7.6),(-2.2,-9),(-3,-9.3),(-5.3,-9.5),(-4.4,-10.2),(-6.8,-10.6),(-2.4,-10.9),(-1.2,-10.3),(-0.1,-10.4),(0,-11.3),(0.7,-12),(0.3,-8.6),(1.4,-8.5),(0.6,-6),(0.9,-6),(2.7,-6.5),(2.9,-6.6),(3.4,-8.3),(1.8,-10.1),(2.3,-11.1),(3.2,-10.9),(4,-11.8),(1.7,-12.8),(2.2,-12.7),(3.4,-12.5),(-0.4,-13.3),(6.1,-10.7),(4.4,-3.2),(4.7,-3.2),(6.8,-4.9),(7.6,-5),(7.8,-6.2),(7.7,-7.9),(8.5,-8.2),(7.6,-9.2),(9.3,-5.3),(9.4,-6.8),(10.7,-7),(11.8,-5.5),(18.5,-5.3),(19.8,-3.7),(18.6,-8.2),(19.3,-8.8),(14.6,-9.2),(15.3,-9.9),
(14.7,-2.7),(14,-3.4),(14,-4),(15,-4),(13.3,-4.5),(13.9,-4.7),(14.7,-4.6),(14.4,-5.2),(13.5,-5.4),(13,-5.8),(14,-6.1),(13.7,-6.8),(12.5,-7.2),(11.7,-7.3),(12.3,-7.8),(11.3,-8.1),(12,-8.1),(11.1,-8.6),(12.2,-9.3),(11.8,-9.1),(10.6,-9.4),(11.4,-9.8),(11,-9.9),(10.6,-10.2),(9.7,-10.3),
(8.5,-11.6),(9.4,-11.8),(8.1,-12.2),(8.7,-12.5),(9,-12.8),(7,-12.2),(7.4,-13.2),(7.1,-13.9),(7.5,-13.6),(6.7,-13.2),(6.3,-13.3),(4.7,-13.6),(5.4,-14.1),(4.5,-14.2),(4.7,-14.7),(5.9,-14.8),(6.3,-15.6),(3.3,-15.2),(2.9,-15.8),(2.9,-16.5),(1.7,-16.2),(1.3,-16.9),(1.1,-17.3),(0.8,-17),(0.4,-17),(-0.7,-16.9),(-0.3,-16.9),(0.4,-17.6),(0.8,-18.5),(2.7,-18.4),
(12.8,-11.1),(12.7,-12),(12.6,-12.6),(11.7,-13),(10.8,-12.6),(10.8,-13.9),(12.2,-14.4),(13.1,-14.1),(13.7,-14.9),(15.6,-14.3),(16.8,-11.8),(18,-14.4),(19.6,-13.5),(19.9,-16.1),(9.2,-15.1),(9.2,-15.3),(11.2,-15.9),(10.5,-16.6),(6.1,-17.2),(7.3,-18.1),(7.8,-18),(8.4,-17.8),(10.2,-18.6),(11.3,-18.2),(11.5,-17.8),(12.5,-18.2),(13,-19),(14,-19.6),(15,-19.4),(15.1,-18),(16.7,-17.6),(17.5,-17.9),(18.5,-18.7),(19.7,-20.5),(18.7,-20.8),(18.3,-21.2),(4.5,-19.5),(2,-20.1),(3.3,-20.6),(4.2,-21.8),(5.2,-22.4),(5.7,-23.3),(6.5,-22.4),(6.8,-22.6),(7.7,-23.1),(7.8,-23.8),(6.7,-24.3),(7.8,-24.2),(9,-23.5),(9.5,-23.2),(11.7,-22.5),(12.4,-22.5),(8.1,-20.9),(8.7,-21.4),(2.1,-22.3),(1.3,-23.1),(0.9,-23.6),(1.8,-23.9),(0.1,-24.3),(-0.7,-22.6),(-1.8,-23.4),(-1.2,-20.5),(-3.4,-22.1),(-6.2,-21.8),(-8.4,-22.9),(-6.8,-24),(-7.5,-24.7),(-14.8,-24.4),(-14.4,-24.1),(-21.3,-24.8),(-20.2,-25),
(-20,-13.4),(-19.2,-14.6),(-21.9,-15),(-20.8,-17.1),(-21.3,-17.4),(-20.5,-18.5),(-17.2,-17),(-14.8,-16.1),(-13.8,-15.5),(-13.6,-13.5),(-12.5,-13.1),(-12.1,-12.1),(-10.8,-11.5),(-10.5,-13.1),(-8.4,-13.6),(-6.8,-14.1),(-4.6,-14.6),(-9.5,-15.9),(-9.3,-16.2),(-8.4,-15.8),(-6.6,-17),(-6.7,-18),(-3.1,-16.3),(-3.5,-16.8),(-20.2,-10.3),(-20.1,-10.4),(-16.8,-11.6),
(-15.9,-18.6),(-14.2,-18.6),(-11.5,-18.6),(-16.3,-19.5),(-16.3,-20.5),(-15.3,-20.4),(-14.7,-20.3),(-14.4,-20.7),(-13.2,-20.2),(-12.6,-20),(-11.9,-20.3),(-11.4,-20.4),(-11,-20.3),(-10.5,-20.3),(-9.8,-19.5),(-9.4,-20.3),(-7.9,-20.3),(-7.2,-19.9),(-6,-20.3),(-9.3,-18.1),(-9.4,-18.4),(-8.5,-18.6),(-8.6,-19.2),(-8.3,-19.8),(-5.9,-18.9),(-5,-19.1),(-4.8,-18.3),(-5.3,-19.7),(-4.8,-19.7),(-4.4,-19.4),(-3.8,-19.4),(-3.5,-18.2),(-3,-18.2),(-2.9,-18.9),(-3.1,-19.1),(-3.4,-18.9),
(-20.2,-20.4),(-19.3,-20.4),(-18.7,-20.4),(-19.4,-21.3),(-18.9,-21.7),(-18.3,-21.3),(-16.4,-21.5),(-16.1,-21.6),(-15.4,-21.4),(-14.1,-21.4),(-14.1,-21.9),(-14,-22.4),(-13.5,-21.2),(-10.5,-21.1),
(-19,12.3),(-18,11.4),(-15,11.4),(-12.7,11.6),(-13.4,11),(-13,11.1),(-10.7,11.4),(-7.2,9.7),(-6.8,9.6),(-1.7,4.8),(-1,4.3),(-0.4,3.5),(0.7,1.1)]

p3_an = [(-19.8,12.1),(-19.1,12.7),(-18.9,12.5),(-19.5,11.7),(-18.7,11.7),(-17.9,11.9),(-17.3,12.5),(-16.8,12.5),(-17.1,11.7),(-16.4,11.9),(-15.8,12.3),(-15.4,12),(-15.5,11.4),(-14.8,11.3),(-14.3,11.6),(-13.7,11.6),(-14.4,10.7),(-12.6,11.8),(-12.3,10.7),(-12,11),(-11.5,11.2),(-10.5,10.4),(-9.8,10.9),(-10.3,10.6),(-9.5,9.6),(-9.1,10.3),(-8.9,10.7),(-8.2,10),(-7.5,10.3),(-7.7,9.4),(-7.5,8.7),(-6.9,8.5),(-6,9.5),(-6,8.7),(-6.4,9.2),
(-5.6,7.3),(-5.1,7.7),(-4.3,7.7),(-3.7,7.5),(-3.3,7.6),(-4.5,7),(-4.2,6.5),(-3.5,6),(-3,5.5),(-1.8,5.7),(-1.3,5.3),(-2.6,4.7),(-1.9,4.1),(-1.1,4.6),(-0.1,3.7),(-1.1,3.1),(-0.6,2.6),(-1.3,2.4),(-0.8,1.9),(-0.2,1.6),(0.6,1.8),(0.1,1),(-0.4,1.1),(0.6,0.6),(0.3,0.2),(-0.3,0.3),(-0.1,-0.6),(-0.6,-0.9),(0.3,-1.6),(-0.3,-1.9),(-0.9,-2.1),(-0.4,-2.8),(-0.1,-3.4),
(-0.7,-1.6),(0.1,-1.7),(0.4,-2.1),(-1.4,-3.1),(-1.4,-4),(-0.6,-4.2),(-1.8,-4.5),(-1,-4.8),(-1.3,-5.4),(-2,-6.1),(-3.7,-6.2),(-3,-5.9),(-2.6,-6.5),(-3.5,-6.8),(-3.1,-7.3),(-5,-7.7),(-4.2,-7.8),(-4.4,-8.3),(-6.9,-8.3),(-6,-8.5),(-7.3,-9),(-6.5,-9.3),(-5.5,-8.9),(-9.8,-9.4),(-8.3,-9.4),(-7.9,-9.7),(-7.4,-9.9),(-9.3,-9.7),(-9.6,-10.3),(-8.6,-10),(-8.6,-10.6),(-8.1,-10.5),(-11.3,-10.4),(-10.7,-10.4),(-11.1,-11.3),(-10.6,-11.2),(-11.7,-11.2),(-12.6,-10.6),(-12.3,-10.8),(-12.8,-11.8),(-13.8,-11.3),(-13.3,-11.3),(-14.2,-11.8),(-14.8,-11.7),(-15.7,-11),(-15.6,-11.6),(-15.5,-12.4),(-16.2,-11.8),(-17.1,-12.2),(-18,-11.7),(-17.6,-12.6),(-18.1,-12.5),(-19.1,-11.6),(-19.5,-11.4),(-19.4,-12.4),(-19.1,-12.6),(-18.6,-12.2)]

classes = ["Anom", "OK"]
colors = ["#ffa500", "#90ee90"]
titles = ["Two Spirals Problem", "Full Moon/Crescent Moon Problem", "Half Kernel Problem"]

W, H = 468, 531


def frame(an, ok):
    return pd.DataFrame({
        "x": [p[0] for p in an] + [p[0] for p in ok],
        "y": [p[1] for p in an] + [p[1] for p in ok],
        "c": ["Anom"] * len(an) + ["OK"] * len(ok),
    })


S = 41.0
R = 5.3 / (S / 2)
tri = "M{x0},{y0} a{r},{r} 0 1,0 {d},0 a{r},{r} 0 1,0 -{d},0 Z"
sym = " ".join(tri.format(x0=round(cx - R, 3), y0=cy, r=round(R, 3), d=round(2 * R, 3))
               for cx, cy in [(-0.82, 0.03), (0, -0.1), (0.82, 0.06)])


def panel(df, title, xdom, ydom, xt, yt, toff, legend=None):
    col = alt.Color("c:N", scale=alt.Scale(domain=classes, range=colors), legend=legend)
    pts = alt.Chart(df).mark_point(filled=True, size=115, stroke="#111111", strokeWidth=1,
                                   opacity=1, clip=True, shape="circle").encode(
        x=alt.X("x:Q", scale=alt.Scale(domain=xdom, nice=False, zero=False),
                axis=alt.Axis(values=xt, title=None, format="d", labelPadding=13)),
        y=alt.Y("y:Q", scale=alt.Scale(domain=ydom, nice=False, zero=False),
                axis=alt.Axis(values=yt, title=None, format="d", labelPadding=18)),
        color=col,
    )
    return pts.properties(width=W, height=H, title=alt.TitleParams(title, offset=toff))


leg = alt.Legend(orient="none", legendX=86, legendY=576, title=None, direction="horizontal",
                 columns=2, symbolType=sym, symbolSize=S * S, symbolStrokeWidth=1, symbolStrokeColor="#111111",
                 symbolOffset=6.5, labelFontSize=23.5, padding=6, strokeColor="#dddddd", fillColor="white",
                 columnPadding=43.5, labelOffset=23, labelExpr="datum.label + '  '", labelLimit=300)

card = alt.Chart(pd.DataFrame({"a": [0]})).mark_rect(
    color="white", cornerRadiusTopLeft=40, cornerRadiusBottomLeft=15, clip=False
).encode(
    x=alt.value(-19), x2=alt.value(1717), y=alt.value(-81), y2=alt.value(645)
).properties(width=1, height=H, view=alt.ViewConfig(stroke=None, fill=None))

ticks15 = list(range(-15, 16, 5))
p1 = panel(frame(p1_an, p1_ok), titles[0], [-15, 15], [-15, 15], ticks15, ticks15, -6)
p2 = panel(frame(p2_an, p2_ok), titles[1], [-15, 15], [-15, 15], ticks15, ticks15, -6, legend=leg)
p3 = panel(frame(p3_an, p3_ok), titles[2], [-23, 20], [-25, 25],
           list(range(-20, 21, 5)), list(range(-20, 21, 10)), 5.5)

chart = alt.hconcat(card, p1, p2, p3, spacing=93, bounds="flush").resolve_scale(color="independent").configure(
    background="#f2f2f2",
    font="Liberation Sans",
    padding={"left": 29, "top": 0, "right": 0, "bottom": 0},
).configure_axis(
    grid=True, gridColor="#cccccc", gridWidth=1.7, domain=False, ticks=False,
    labelFontSize=25, labelColor="#262626", labelFlush=False,
).configure_view(stroke="#cccccc", strokeWidth=2.5, fill="white").configure_title(
    fontSize=29, color="#262626", fontWeight="normal", anchor="middle",
).configure_legend(labelColor="#262626")

chart.save("out.html", embed_options={"renderer": "svg", "actions": False})
